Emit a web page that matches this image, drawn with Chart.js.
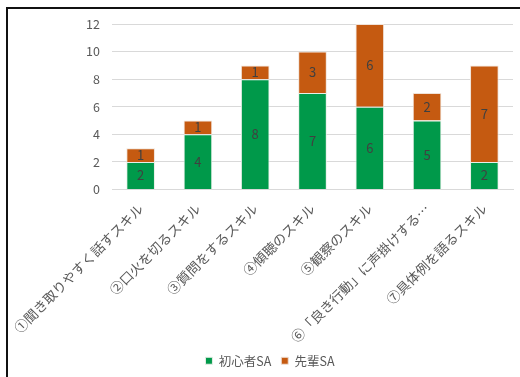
<!DOCTYPE html>
<html>
<head>
<meta charset="utf-8">
<script src="https://cdn.jsdelivr.net/npm/chart.js@4"></script>
<style>
  html, body { margin: 0; padding: 0; background: #fff; overflow: hidden; }
  #wrap { position: relative; width: 520px; height: 377px; }
  #frame {
    position: absolute; left: 6px; top: 7px; width: 600px; height: 500px;
    border: 2px solid #111; pointer-events: none;
  }
</style>
</head>
<body>
<div id="wrap">
  <canvas id="skillChart" width="520" height="377"></canvas>
  <div id="frame"></div>
</div>
<script>
// skill categories and counts per group
const skills = [
  '①聞き取りやすく話すスキル',
  '②口火を切るスキル',
  '③質問をするスキル',
  '④傾聴のスキル',
  '⑤観察のスキル',
  '⑥「良き行動」に声掛けする…',
  '⑦具体例を語るスキル'
];
const beginnerSA = [ 2, 4, 8, 7, 6, 5, 2 ];
const seniorSA = [ 1, 1, 1, 3, 6, 2, 7 ];
const yTicks = [ 0, 2, 4, 6, 8, 10, 12 ];

const fontFamily = '"Noto Sans CJK JP", "Noto Sans", sans-serif';

// value labels in the middle of each stacked segment
const barValues = {
  id: 'barValues',
  afterDatasetsDraw(chart) {
    const ctx = chart.ctx;
    ctx.save();
    ctx.font = '13px ' + fontFamily;
    ctx.fillStyle = '#404040';
    ctx.textAlign = 'center';
    ctx.textBaseline = 'middle';
    chart.data.datasets.forEach((ds, i) => {
      const meta = chart.getDatasetMeta(i);
      meta.data.forEach((bar, j) => {
        const v = ds.data[j];
        if (!v) return;
        const mid = (bar.y + bar.base) / 2;
        ctx.fillText(String(v), bar.x, mid);
      });
    });
    ctx.restore();
  }
};

const data = {
  labels: skills,
  datasets: [
    {
      label: '初心者SA',
      data: beginnerSA,
      backgroundColor: '#00994A',
      borderColor: '#e8efe8',
      borderWidth: 1,
      barPercentage: 0.5,
      categoryPercentage: 1
    },
    {
      label: '先輩SA',
      data: seniorSA,
      backgroundColor: '#C55A11',
      borderColor: '#f0e2d8',
      borderWidth: 1,
      barPercentage: 0.5,
      categoryPercentage: 1
    }
  ]
};

const config = {
  type: 'bar',
  data: data,
  options: {
    responsive: false,
    animation: false,
    layout: { padding: { left: 27, right: 7, top: 24, bottom: 0 } },
    plugins: {
      legend: {
        position: 'bottom',
        labels: {
          boxWidth: 7,
          boxHeight: 7,
          padding: 10,
          color: '#595959',
          font: { size: 12.5, family: fontFamily }
        }
      },
      tooltip: { enabled: false }
    },
    scales: {
      x: {
        stacked: true,
        grid: { display: false },
        border: { color: '#d9d9d9' },
        ticks: {
          autoSkip: false,
          maxRotation: 45,
          minRotation: 45,
          padding: 3,
          color: '#595959',
          font: { size: 13.5, family: fontFamily }
        },
        afterFit(scale) { scale.height = 155; }
      },
      y: {
        stacked: true,
        min: 0,
        max: 12,
        afterBuildTicks(scale) { scale.ticks = yTicks.map(v => ({ value: v })); },
        grid: { color: '#d9d9d9', drawTicks: false },
        border: { display: false },
        ticks: {
          padding: 12,
          color: '#595959',
          font: { size: 12.5, family: fontFamily }
        },
        afterFit(scale) { scale.width = 85; }
      }
    }
  },
  plugins: [ barValues ]
};

const skillChart = new Chart(document.getElementById('skillChart'), config);
</script>
</body>
</html>
